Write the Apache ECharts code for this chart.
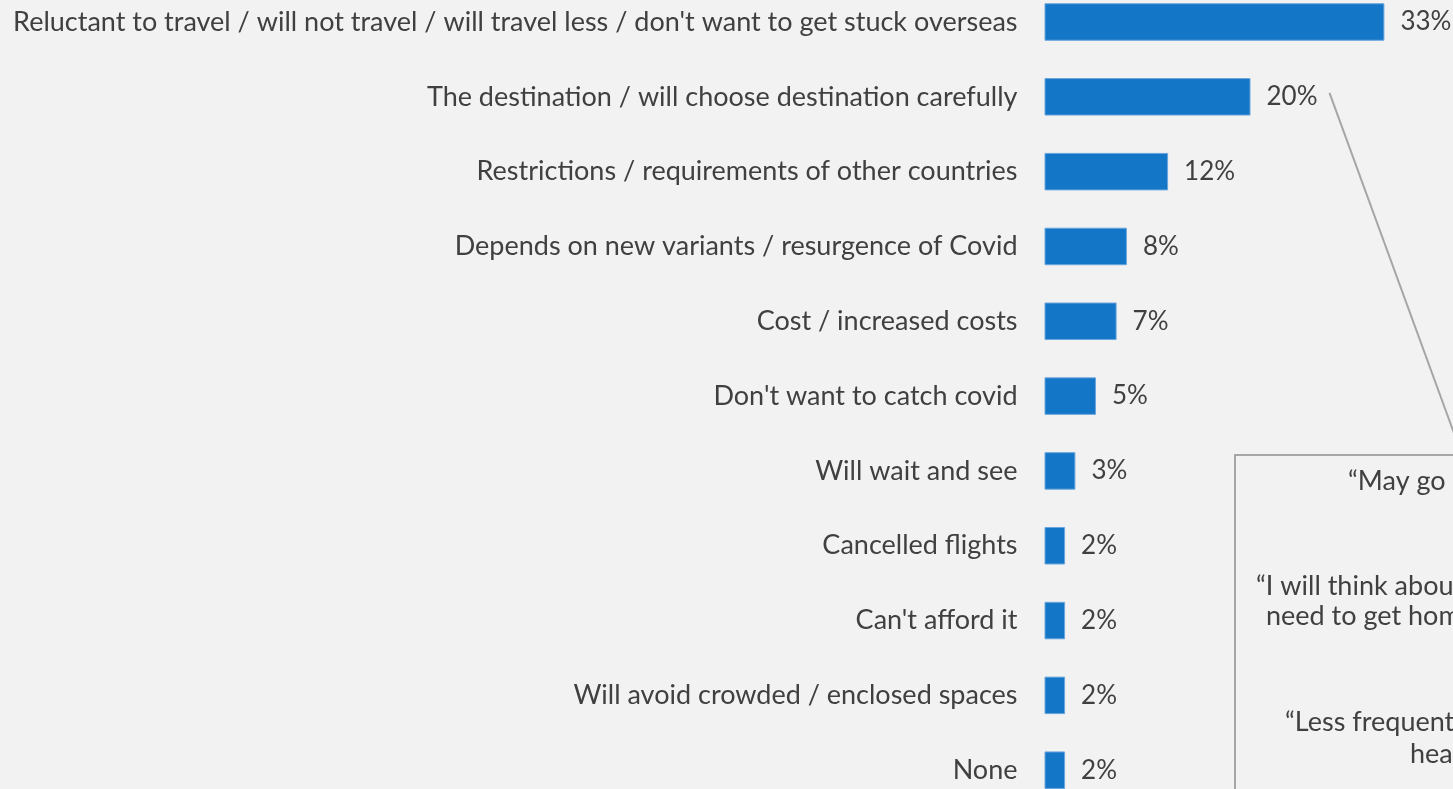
<!DOCTYPE html>
<html>
<head>
<meta charset="utf-8">
<script src="https://cdn.jsdelivr.net/npm/echarts@6/dist/echarts.min.js"></script>
<style>
  html, body { margin: 0; padding: 0; background: #f2f2f2; }
  #chart { width: 1453px; height: 789px; }
</style>
</head>
<body>
<div id="chart"></div>
<script>
// Reasons given for changing future travel plans (% of respondents)
const categories = [
  "Reluctant to travel / will not travel / will travel less / don't want to get stuck overseas",
  "The destination / will choose destination carefully",
  "Restrictions / requirements of other countries",
  "Depends on new variants / resurgence of Covid",
  "Cost / increased costs",
  "Don't want to catch covid",
  "Will wait and see",
  "Cancelled flights",
  "Can't afford it",
  "Will avoid crowded / enclosed spaces",
  "None"
];
const values = [33, 20, 12, 8, 7, 5, 3, 2, 2, 2, 2];

// Verbatim quotes shown in the side panel
const quoteLines = [
  "\u201cMay go to fewer places\u201d",
  "\u201cI will think about whether I could",
  "need to get home quickly\u201d",
  "\u201cLess frequent travel and more aware",
  "health risks\u201d"
];

const FONT = "Lato";
const TEXT = "#404040";

const chart = echarts.init(document.getElementById('chart'));

chart.setOption({
  backgroundColor: '#f2f2f2',
  animation: false,
  grid: {
    left: 1044.5, width: 412, top: -15.4, height: 823,
    outerBoundsMode: 'none', containLabel: false
  },
  xAxis: {
    type: 'value', min: 0, max: 40, show: false,
    splitLine: { show: false }
  },
  yAxis: {
    type: 'category', inverse: true, data: categories,
    axisLine: { show: false }, axisTick: { show: false },
    axisLabel: { margin: 27, fontFamily: FONT, fontSize: 27, color: TEXT }
  },
  series: [{
    type: 'bar',
    data: values,
    barWidth: 37.5,
    itemStyle: { color: '#1476c6', borderColor: '#6aa5dc', borderWidth: 1 },
    label: {
      show: true, position: 'right', distance: 16,
      formatter: '{c}%', fontFamily: FONT, fontSize: 26, color: TEXT
    }
  }]
});

// Side panel with quotes, linked to the "destination" bar label
const anchor = chart.convertToPixel({ gridIndex: 0 }, [values[1], 1]);
const lineStart = [anchor[0] + 79, anchor[1] - 4];
const quoteX = [1348, 1256, 1266, 1285, 1410];
const quoteY = [481, 586, 616, 722, 754];

const graphics = [
  {
    type: 'line', silent: true,
    shape: { x1: lineStart[0], y1: lineStart[1], x2: 1462, y2: 455 },
    style: { stroke: '#a6a6a6', lineWidth: 2 }
  },
  {
    type: 'rect', silent: true,
    shape: { x: 1235, y: 455, width: 500, height: 400 },
    style: { fill: '#f2f2f2', stroke: '#a6a6a6', lineWidth: 2 }
  }
];
quoteLines.forEach((t, i) => {
  graphics.push({
    type: 'text', silent: true, x: quoteX[i], y: quoteY[i],
    style: {
      text: t, fill: TEXT, font: '27px ' + FONT,
      textAlign: 'left', textVerticalAlign: 'middle'
    }
  });
});
chart.setOption({ graphic: graphics });
</script>
</body>
</html>
